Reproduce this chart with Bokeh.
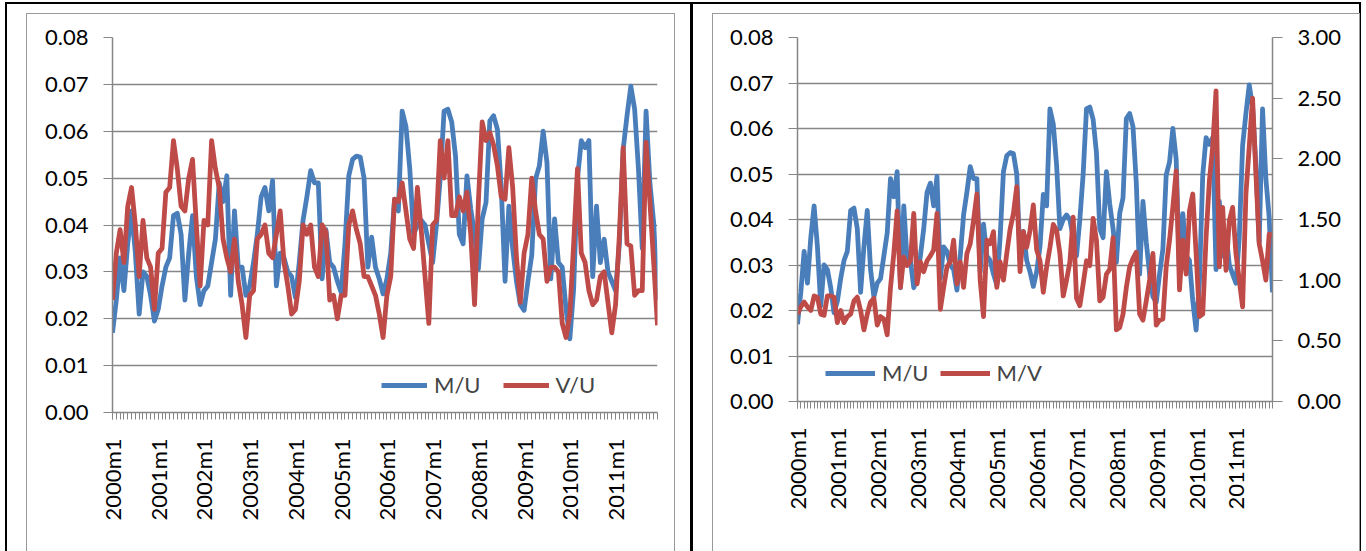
import math

from bokeh.embed import file_html
from bokeh.layouts import row
from bokeh.models import (FixedTicker, Legend, LegendItem, LinearAxis,
                          NumeralTickFormatter, Range1d, Spacer)
from bokeh.plotting import figure
from bokeh.resources import INLINE

# monthly observations 2000m1 .. 2011m12
months = list(range(144))
year_labels = ["%dm1" % y for y in range(2000, 2012)]

m_u = [0.017, 0.024, 0.033, 0.026, 0.036, 0.043, 0.034, 0.021, 0.030, 0.029, 0.025, 0.0195,
       0.022, 0.027, 0.031, 0.033, 0.042, 0.0425, 0.038, 0.024, 0.034, 0.042, 0.029, 0.023,
       0.026, 0.027, 0.032, 0.037, 0.049, 0.045, 0.0505, 0.025, 0.043, 0.031, 0.031, 0.025,
       0.027, 0.032, 0.038, 0.046, 0.048, 0.043, 0.0495, 0.027, 0.034, 0.033, 0.030, 0.029,
       0.0245, 0.032, 0.041, 0.046, 0.0516, 0.049, 0.049, 0.0285, 0.039, 0.032, 0.031, 0.028,
       0.0256, 0.036, 0.0505, 0.054, 0.0547, 0.0545, 0.050, 0.031, 0.0374, 0.031, 0.0285, 0.0253,
       0.0285, 0.034, 0.0455, 0.043, 0.0643, 0.061, 0.052, 0.038, 0.040, 0.041, 0.040, 0.036,
       0.032, 0.040, 0.050, 0.0643, 0.0647, 0.062, 0.0547, 0.038, 0.036, 0.0505, 0.0434, 0.038,
       0.0306, 0.0413, 0.0448, 0.0622, 0.0633, 0.0604, 0.048, 0.028, 0.044, 0.035, 0.028, 0.023,
       0.0218, 0.028, 0.0335, 0.0498, 0.0526, 0.060, 0.0533, 0.0285, 0.0413, 0.032, 0.031, 0.0221,
       0.0157, 0.0264, 0.0498, 0.058, 0.0565, 0.058, 0.029, 0.044, 0.032, 0.037, 0.030, 0.028,
       0.026, 0.036, 0.0562, 0.0633, 0.0696, 0.0647, 0.052, 0.035, 0.0643, 0.049, 0.0405, 0.024]

v_u = [0.024, 0.034, 0.039, 0.032, 0.044, 0.048, 0.040, 0.029, 0.041, 0.033, 0.031, 0.022,
       0.034, 0.035, 0.047, 0.048, 0.058, 0.052, 0.044, 0.043, 0.050, 0.054, 0.040, 0.027,
       0.041, 0.040, 0.058, 0.052, 0.048, 0.037, 0.033, 0.030, 0.037, 0.028, 0.023, 0.016,
       0.025, 0.026, 0.037, 0.038, 0.040, 0.034, 0.033, 0.038, 0.043, 0.032, 0.027, 0.021,
       0.022, 0.028, 0.040, 0.038, 0.040, 0.031, 0.029, 0.040, 0.0385, 0.024, 0.025, 0.020,
       0.025, 0.025, 0.040, 0.043, 0.039, 0.036, 0.029, 0.029, 0.027, 0.025, 0.021, 0.016,
       0.025, 0.029, 0.0455, 0.045, 0.049, 0.043, 0.037, 0.035, 0.048, 0.039, 0.029, 0.019,
       0.040, 0.041, 0.058, 0.050, 0.058, 0.042, 0.042, 0.046, 0.043, 0.047, 0.038, 0.023,
       0.045, 0.062, 0.058, 0.0597, 0.057, 0.0526, 0.046, 0.0455, 0.0565, 0.048, 0.033, 0.0235,
       0.034, 0.038, 0.050, 0.043, 0.038, 0.037, 0.028, 0.031, 0.031, 0.030, 0.019, 0.016,
       0.021, 0.036, 0.052, 0.034, 0.032, 0.026, 0.023, 0.024, 0.029, 0.030, 0.0235, 0.017,
       0.023, 0.038, 0.0565, 0.036, 0.0355, 0.025, 0.026, 0.026, 0.0576, 0.045, 0.032, 0.0186]

m_v = [0.72, 0.78, 0.82, 0.78, 0.75, 0.87, 0.86, 0.72, 0.71, 0.87, 0.87, 0.86,
       0.65, 0.75, 0.65, 0.70, 0.72, 0.83, 0.86, 0.75, 0.59, 0.72, 0.82, 0.85,
       0.63, 0.70, 0.68, 0.55, 0.94, 1.22, 1.57, 0.94, 1.19, 1.12, 1.16, 1.55,
       0.97, 1.15, 1.07, 1.16, 1.20, 1.25, 1.55, 0.76, 0.94, 1.11, 1.15, 1.33,
       0.97, 1.15, 0.94, 1.22, 1.30, 1.49, 1.71, 1.00, 0.70, 1.33, 1.30, 1.40,
       0.94, 1.15, 1.00, 1.22, 1.42, 1.55, 1.77, 1.07, 1.40, 1.27, 1.41, 1.62,
       1.25, 1.16, 0.90, 1.11, 1.27, 1.46, 1.41, 1.22, 0.87, 1.00, 1.15, 1.52,
       0.85, 0.79, 0.97, 1.16, 1.12, 1.51, 1.33, 0.83, 0.86, 1.05, 1.09, 1.35,
       0.59, 0.61, 0.72, 0.94, 1.11, 1.18, 1.23, 0.72, 0.67, 0.83, 1.00, 1.22,
       0.63, 0.67, 0.68, 1.11, 1.33, 1.60, 1.90, 0.92, 1.33, 1.05, 1.57, 1.71,
       1.22, 0.70, 0.72, 1.35, 1.82, 2.10, 2.56, 1.11, 1.60, 1.08, 1.49, 1.60,
       1.22, 1.00, 0.78, 1.71, 2.10, 2.50, 1.88, 1.30, 1.16, 1.00, 1.38, 1.37]

left_ticks = [0.00, 0.01, 0.02, 0.03, 0.04, 0.05, 0.06, 0.07, 0.08]
right_ticks = [0.0, 0.5, 1.0, 1.5, 2.0, 2.5, 3.0]

BLUE = "#4a7ebb"
RED = "#be4b48"
GREY = "#868686"
FONT = "Lato"
FSIZE = "22px"
LW = 4.8


def style_axis(ax, tick_out=9, standoff=16):
    ax.axis_line_color = GREY
    ax.axis_line_width = 1.5
    ax.major_tick_line_color = GREY
    ax.minor_tick_line_color = GREY
    ax.major_tick_in = 0
    ax.major_tick_out = tick_out
    ax.minor_tick_in = 0
    ax.minor_tick_out = 0
    ax.major_label_text_font = FONT
    ax.major_label_text_font_size = FSIZE
    ax.major_label_text_color = "black"
    ax.major_label_standoff = standoff


def chart(frame_w, frame_h, borders, margin):
    p = figure(frame_width=frame_w, frame_height=frame_h,
               output_backend="svg", toolbar_location=None,
               x_range=Range1d(0, 143), y_range=Range1d(0, 0.08),
               min_border_left=borders[0], min_border_right=borders[1],
               min_border_top=borders[2], min_border_bottom=borders[3],
               background_fill_color="white", border_fill_color="white",
               margin=margin, styles={"outline": "1px solid #9a9a9a"})
    if "frame_align" in p.properties():
        p.frame_align = False
    p.outline_line_color = None
    p.xgrid.grid_line_color = None
    p.ygrid.grid_line_color = GREY
    p.ygrid.grid_line_width = 1.5

    p.xaxis.ticker = FixedTicker(ticks=months[::12], minor_ticks=months)
    p.xaxis.major_label_overrides = {m: lab for m, lab in zip(months[::12], year_labels)}
    p.xaxis.major_label_orientation = math.pi / 2
    style_axis(p.xaxis[0], tick_out=7, standoff=19)
    p.xaxis.minor_tick_out = 7

    p.yaxis.ticker = FixedTicker(ticks=left_ticks)
    p.yaxis.formatter = NumeralTickFormatter(format="0.00")
    style_axis(p.yaxis[0], standoff=15)
    return p


def legend(p, items, loc, glyph_w, spacing):
    lg = Legend(items=[LegendItem(label=l, renderers=[r]) for l, r in items],
                location=loc, orientation="horizontal", margin=0, padding=4,
                glyph_width=glyph_w, glyph_height=24, label_height=24,
                label_standoff=7, spacing=spacing,
                border_line_color=None, background_fill_alpha=0,
                label_text_font=FONT, label_text_font_size=FSIZE)
    p.add_layout(lg)


# left chart: M/U and V/U
p1 = chart(545, 375, (85, 17, 23, 139), (10, 16, 0, 20))
r1 = p1.line(months, m_u, line_color=BLUE, line_width=LW, line_join="round")
r2 = p1.line(months, v_u, line_color=RED, line_width=LW, line_join="round")
legend(p1, [("M/U", r1), ("V/U", r2)], (269, 14), 46, 22)

# right chart: M/U (left axis) and M/V (right axis)
p2 = chart(475, 364, (84, 87, 23, 150), (10, 0, 0, 20))
p2.extra_y_ranges = {"ratio": Range1d(0, 3)}
rax = LinearAxis(y_range_name="ratio", ticker=FixedTicker(ticks=right_ticks),
                 formatter=NumeralTickFormatter(format="0.00"))
style_axis(rax, tick_out=10, standoff=15)
p2.add_layout(rax, "right")
r3 = p2.line(months, m_u, line_color=BLUE, line_width=LW, line_join="round")
r4 = p2.line(months, m_v, line_color=RED, line_width=LW, line_join="round",
             y_range_name="ratio")
legend(p2, [("M/U", r3), ("M/V", r4)], (28, 15), 50, 11)

# black cell divider between the two charts
divider = Spacer(width=3, height=547, styles={"background-color": "black"})

layout = row(p1, divider, p2, margin=(4, 0, 0, 7),
             styles={"outline": "2.5px solid black"})
open("out.html", "w").write(file_html(layout, INLINE))
